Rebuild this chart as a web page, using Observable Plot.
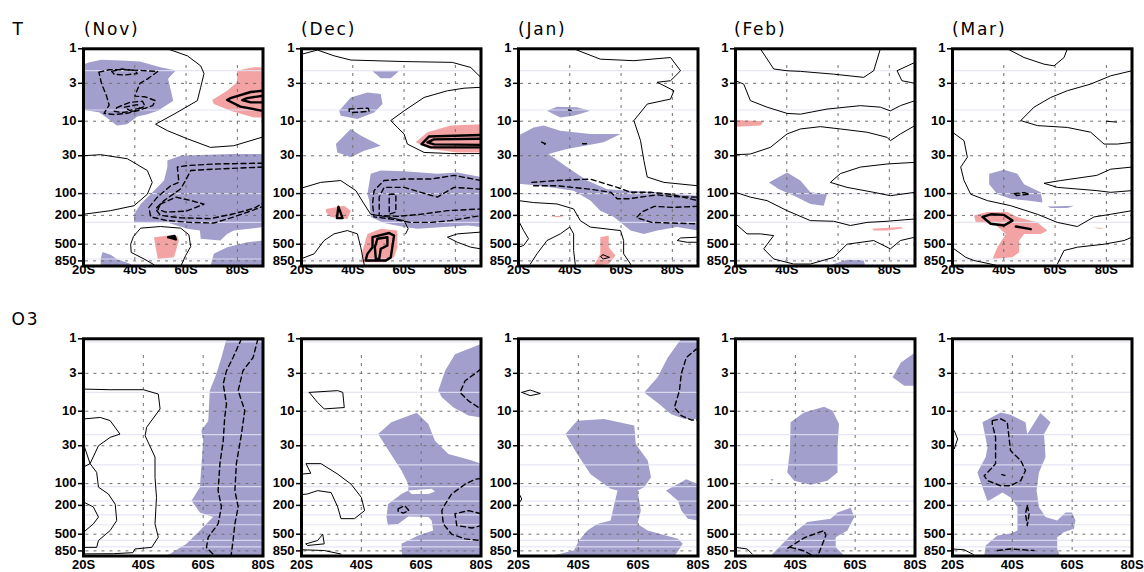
<!DOCTYPE html>
<html><head><meta charset="utf-8">
<script src="https://cdn.jsdelivr.net/npm/d3@7"></script>
<script src="https://cdn.jsdelivr.net/npm/@observablehq/plot@0.6"></script>
<style>
body{margin:0;background:#fff;}
#chart{position:relative;width:1144px;height:572px;overflow:hidden;background:#fff;}
.ttl{position:absolute;font-family:"DejaVu Sans","Liberation Sans",Arial,sans-serif;font-size:17px;letter-spacing:1.8px;line-height:normal;color:#000;white-space:nowrap;}
</style></head><body><div id="chart"></div>
<script>
// ---------- axis / label data ----------
const months = ["(Nov)","(Dec)","(Jan)","(Feb)","(Mar)"];
const rowLabels = ["T","O3"];
const pressureTicks = [1,3,10,30,100,200,500,850];
const latTicks = [20,40,60,80];
const gridPressure = [3,10,30,100,200,500,850];
const gridLatT = [40,60,80];
const gridLatO3 = [40,60];
const faintLevelsT = [2,7,100,250,800];
const faintLevelsO3 = [1.1,5.5,21,55,110,175,270,370,610,750];

// ---------- T panels: [lat (deg S), pressure (hPa)] ----------
const T_Nov_blue = [
 [[20,1.65],[22,1.55],[27,1.42],[35,1.45],[42,1.5],[50,1.8],[56,2.0],[53,2.6],[55,5.2],[49,7.2],[45,8.0],[41,8.6],[37,11],[33,11.5],[30,9.5],[26,7.5],[20,7.0]],
 [[52.7,35],[57.9,30],[68,29],[78.6,28.4],[90,28.4],[90,290],[78.6,324],[76,360],[73.4,445],[65.7,420],[65.4,324],[60.5,305],[52.7,250],[44.9,255],[39.7,250],[39.7,193],[42.3,139],[47.5,91],[51.4,66],[52.7,43]],
 [[70.8,680],[76,550],[83.8,470],[90,445],[90,1000],[69.5,1000]],
 [[27.4,640],[30.6,700],[33,800],[38.4,940],[39,1000],[26.7,1000],[26.7,800]]
];
const T_Nov_pink = [
 [[47.5,400],[53,380],[56.6,385],[57.2,445],[55.3,760],[49,800],[48.1,550]],
 [[79.9,2.0],[86.4,1.8],[90,1.8],[90,8.9],[86.4,8.9],[77.3,7.2],[70.8,5.8],[70.2,5.1],[76,3.8],[79.9,2.9]]
];
const T_Nov_solid = [
 [[52.7,1],[60.5,1.25],[65.7,1.72],[67,2.2],[65.7,3.4],[64.4,5.2],[55.3,8],[48.1,11],[52.7,13.5],[60.5,17.5],[69.5,23],[78.6,21.8],[90,16.5]],
 [[20,30],[26.7,29],[37.1,33],[44.9,48],[46.8,70],[44.9,102],[39.7,147],[30.6,172],[20,193]],
 [[47.5,960],[43.6,800],[38.6,650],[38.4,500],[39.5,390],[42.3,300],[50,285],[57.9,300],[61.1,370],[61.8,540],[59.8,720],[58,1000]]
];
const T_Nov_dashed = [
 [[26,2.1],[30,1.95],[36,1.95],[43,2.0],[49,2.05],[45,2.6],[42,3.0],[40,4.5],[44,4.6],[48,5.2],[47,6.1],[42,7.0],[37,7.8],[32,8.1],[28,7.8],[30,6.0],[29,4.5],[27,3.0],[26,2.1]],
 [[31,2.05],[35,1.9],[40,2.0],[41,2.2],[36,2.3],[32,2.25],[31,2.05]],
 [[33,6.5],[38,5.5],[43,5.3],[44,6.2],[40,7.2],[35,7.6],[32,7.3],[33,6.5]],
 [[36,6.4],[41,5.9],[42,6.6],[38,7.1],[36,6.4]],
 [[90,38],[70.8,39],[60.5,41],[56.6,43],[57.2,70],[54,78],[48.8,112],[45.5,155],[46.2,210],[52.7,236],[61.8,250],[70.8,255],[78.6,210],[86.4,168],[90,150]],
 [[90,43],[70.8,46],[61.8,48],[59.8,66],[57.9,86],[51.4,125],[48.1,163],[50,200],[57.9,216],[69.5,222],[78.6,190],[86.4,160],[90,135]],
 [[50,140],[56,112],[62,125],[67,140],[60,175],[52,180],[49,165],[50,140]]
];
const T_Nov_heavy = [
 [[90,3.8],[85.2,3.95],[77.3,4.8],[76,5.1],[81.2,6.3],[90,7.2]],
 [[90,4.45],[83.8,4.8],[81.9,5.1],[85.2,5.5],[90,5.5]],
 [[53,400],[56,430],[55.5,385],[53,400]]
];

const T_Dec_blue = [
 [[47.7,2.05],[58,2.05],[54.8,2.55],[50.9,2.55]],
 [[34.7,7.2],[39.2,4.7],[45.7,4.0],[50.9,4.2],[51.6,5.8],[48.3,7.6],[41.8,9.3],[35.3,8.4]],
 [[33.4,20.7],[39.2,12.8],[43.1,15.8],[50.9,21.8],[44.4,25.5],[39.2,31.5],[34,27]],
 [[47,53],[50.9,48],[60,49],[73,53],[80.8,51],[90,59],[90,290],[84.7,276],[75.6,290],[65.2,305],[60,290],[52.2,255],[47,210],[46.4,125],[45.7,102]]
];
const T_Dec_pink = [
 [[64.5,19.6],[69.1,14.2],[78.2,11.5],[90,11],[90,27],[80.8,27],[70.4,24.2]],
 [[29.5,163],[36.6,147],[39.2,172],[37.9,224],[31.4,210],[29.5,180]],
 [[45.7,360],[50.9,305],[57.4,324],[57.4,550],[56.1,760],[52.9,890],[43.1,890],[43.8,611]]
];
const T_Dec_solid = [
 [[20.4,1.18],[26.2,1.04],[32.7,1.25],[39.2,1.43],[60,1.5],[78.8,1.54],[86,1.81],[90,2.5]],
 [[90,3.4],[83.4,3.5],[76.9,3.8],[67.8,4.7],[60,7.2],[54.8,9.8],[57.4,12.2],[60,15],[61.3,20.7],[67.8,27],[78.2,28],[90,28]],
 [[20,84],[27.5,70],[35.3,66],[41.2,91],[44.4,139],[47,193],[53.5,210],[60,236],[61.6,305],[60.6,360]],
 [[20,790],[24.9,680],[28.8,445],[32.7,360],[37.9,324],[41.8,360],[43.1,550],[44.4,940],[44.6,1000]],
 [[90,340],[80.8,360],[76.9,400],[80.8,470],[86,550],[90,580]]
];
const T_Dec_dashed = [
 [[38.6,6.8],[46,6.6],[46.4,7.3],[40,7.6],[38.6,7.3],[38.6,6.8]],
 [[90,66],[79.5,56],[70.4,63],[60,63],[52.2,66],[48.3,91],[47.7,139],[48.3,210],[54.8,224],[62.6,250],[70.4,250],[78.2,236],[90,201]],
 [[90,87],[79.5,82],[73,112],[66.5,96],[60,82],[52.2,82],[50.3,112],[50.3,201],[57.4,206],[66.5,193],[76.9,172],[90,163]],
 [[54.2,102],[56.8,102],[56.8,180],[54.2,193],[54.2,102]]
];
const T_Dec_heavy = [
 [[90,15.5],[69.7,16.3],[66.8,20.7],[70.4,23],[90,23]],
 [[90,17.5],[71.7,17.8],[69.1,19.6],[71.7,20.9],[90,21.2]],
 [[34.4,152],[36,218],[33.8,218],[34.4,152]],
 [[47.7,400],[54.2,350],[56.1,380],[54.8,760],[52.9,840],[45,840],[45.7,680],[47.7,550],[47.7,400]],
 [[49.6,420],[53.5,400],[53.5,521],[50.9,580],[50.3,800],[49,800],[48.6,550],[49.6,420]]
];

const T_Jan_blue = [
 [[31.1,7.2],[35,6.3],[42.8,6.4],[48,7.2],[41.5,8.4],[36.3,8.9]],
 [[20,15.8],[25.9,12.2],[29.8,11.5],[36.3,13.5],[48,15],[59.8,15],[53.2,19.6],[38.9,24.2],[31.7,28.4],[38.9,43],[46.7,66],[54.6,87],[63.7,91],[74.1,96],[81.9,102],[90,107],[90,324],[81.9,290],[74.1,324],[68.9,360],[63.7,324],[57.2,210],[51.9,172],[48,125],[41.5,91],[28.5,78],[20,73]]
];
const T_Jan_pink = [
 [[32,205],[39,200],[35.5,212]],
 [[51.9,400],[55.2,380],[55.2,550],[57.8,716],[55.2,940],[49.3,1000],[51.9,680]],
 [[79,21],[80.5,21.5],[79.5,22]]
];
const T_Jan_solid = [
 [[41.5,1],[51.9,1.39],[65,1.46],[79.3,1.32],[83.2,2.01],[79.3,2.76],[74.1,2.9],[80.6,3.79],[79.3,4.95],[70.2,5.8],[65,9.8],[67.6,18.6],[68.9,35],[70.2,59],[76.7,70],[90,78]],
 [[20,125],[25.9,133],[35,139],[41.5,163],[44.1,236],[48,290],[59.8,324],[61,445],[61,680],[63.7,940],[64,1000]],
 [[20,236],[22,324],[23.9,420],[22,521],[20,550]],
 [[24.6,940],[27.2,680],[31.1,445],[36.3,360],[40,290],[41.5,360],[41.5,611],[42.2,1000]],
 [[90,400],[83.2,410],[81.9,445],[85.8,470],[90,470]],
 [[53,700],[55.5,760],[53,800],[52,740],[53,700]]
];
const T_Jan_dashed = [
 [[25.2,70],[35,66],[48,63],[58.5,82],[63.7,96],[71.5,96],[79.3,102],[90,125]],
 [[25.9,78],[35,78],[48,87],[56,96],[58.5,118],[63,118],[68.9,110],[74,104],[80,110],[90,112]],
 [[90,150],[80,155],[73,150],[68,180],[66,215],[72,250],[80,255],[90,262]],
 [[29,19.5],[30.5,20.5],[29.5,21.5]],
 [[45,20.5],[46.5,20.5]],
 [[39.5,7.0],[40.5,7.1]]
];
const T_Jan_heavy = [];

const T_Feb_blue = [
 [[33,70],[40.1,51],[45.3,66],[49.2,96],[55.7,102],[54.4,147],[49.2,139],[44,112],[37,87]],
 [[58.3,940],[63.5,820],[70,840],[70.6,1000],[57,1000]]
];
const T_Feb_pink = [
 [[20,9.6],[31,10],[29.7,11.5],[20,11.9]],
 [[73.2,305],[84.3,290],[85.6,300],[79.1,324],[73.9,324]]
];
const T_Feb_solid = [
 [[29.7,1],[34.9,1.9],[40.1,2.01],[45.3,2.05],[58.3,2.24],[70,2.48],[73.9,2.01],[76.5,1]],
 [[90,1.54],[83,2.01],[84.9,2.76],[90,3.0]],
 [[20,2.76],[23.2,3.07],[25.8,5.2],[32.3,6.4],[40.1,7.8],[45.3,8],[55.7,6.8],[68.7,6.1],[76.5,6.4],[80.4,7.2],[84.3,6.1],[90,5.2]],
 [[20,29],[25.8,28.4],[33.6,23],[40.1,15],[45.3,12.8],[53.1,11.9],[60.9,12.8],[71.3,14.2],[79.1,16.7],[80.4,18.6],[84.3,15],[90,11.5]],
 [[90,37],[79.1,39],[68.7,43],[60.9,53],[57,70],[63.5,82],[73.9,96],[80.4,107],[90,96]],
 [[20,96],[25.8,112],[32.3,125],[40.1,172],[49.2,236],[58.3,241],[64.8,276],[71.3,250],[79.1,241],[90,224]],
 [[20,261],[24.5,360],[29.7,360],[34.9,380],[31,580],[34.9,800],[42.7,940],[49.2,940],[58.3,760],[63.5,500],[73.9,445],[80.4,580],[84.3,445],[90,400]]
];
const T_Feb_dashed = [];
const T_Feb_heavy = [];

const T_Mar_blue = [
 [[34.3,53],[40.1,47],[45.3,53],[47.9,74],[54.4,96],[55.1,133],[49.2,125],[42.7,118],[37.5,102],[34.3,74]],
 [[57,151],[67.4,147],[64.8,158],[58.3,158]]
];
const T_Mar_pink = [
 [[28.4,201],[33.6,180],[41.4,180],[45.3,210],[53.1,250],[57,324],[54.4,360],[47.9,360],[46,445],[46,645],[43.4,760],[35.6,800],[37.5,550],[40.8,360],[36.2,261],[29.1,250]],
 [[75,295],[80,300],[77,305]]
];
const T_Mar_solid = [
 [[41.4,1],[47.9,1.32],[55.7,1.63],[59.6,1.72],[63.5,1.32],[64.8,1]],
 [[90,2.01],[81.7,2.36],[73.9,3.07],[64.8,3.79],[58.3,4.7],[51.8,6.4],[46.6,9.8],[53.1,11.5],[64.8,12.2],[73.9,14.2],[79.1,20.7],[84.3,20.7],[90,19.6]],
 [[20,14.2],[24.5,18.6],[25.8,31.5],[23.2,43],[24.5,66],[27.1,102],[33.6,125],[42.7,147],[53.1,193],[60.9,250],[68.7,285],[75.2,210],[81.7,193],[90,172]],
 [[90,43],[81.7,46],[76.3,56],[62.2,66],[55.7,72],[60.9,82],[76.3,91],[81.7,96],[90,91]],
 [[20.6,580],[25.2,760],[28.4,840],[34.9,940],[38,1000]],
 [[60.9,940],[63.5,611],[68.7,550],[79.1,500],[86.9,445],[90,400]],
 [[80,10],[84,10.3]]
];
const T_Mar_dashed = [
 [[44,100],[48,97],[50,102],[45,106],[44,100]]
];
const T_Mar_heavy = [
 [[31.7,210],[34.9,193],[40.1,197],[43.4,236],[40.1,276],[34.9,261],[31.7,210]],
 [[44.7,285],[50.5,310]]
];

// ---------- O3 panels ----------
const O3_Nov_blue = [
 [[67.8,1],[80,1],[80,1000],[47,1000],[48.9,940],[54.4,680],[58.9,445],[63.3,290],[58.9,250],[56.1,172],[58.9,112],[60,25.5],[59.4,18.6],[61.7,13.5],[62.2,5.2],[64.4,3.07],[66.1,1.81]]
];
const O3_Nov_solid = [
 [[20,4.95],[28.9,5.05],[40,5.05],[45,5.8],[45.6,9.3],[41.1,16.7],[40.6,21.8],[43.9,43],[43.9,82],[44.4,155],[43.9,360],[45,550],[42.8,760],[37.2,800],[36.5,900],[30,930],[20,935]],
 [[20,12.8],[25.6,12.2],[28.9,13.5],[32.2,20.7],[28.9,23],[25,30],[22.2,53],[20,59]],
 [[20,28.4],[22.2,53],[24.4,70],[25,112],[28.3,139],[30.6,193],[31.1,324],[28.9,445],[25,611],[24.4,760],[20,760]],
 [[20,180],[23.3,210],[25,290],[23.3,360],[20,470]]
];
const O3_Nov_dashed = [
 [[72.8,1],[70,1.81],[67.8,2.76],[66.7,4.2],[67.8,8],[67.2,12.2],[66.7,25.5],[65.6,53],[65,125],[66.1,210],[65,360],[61.7,550],[61.1,760],[63.3,940],[64,1000]],
 [[78.3,1],[76.7,1.81],[73.3,2.76],[71.7,5.2],[73.9,9.8],[72.8,20.7],[71.1,53],[70.6,125],[71.7,210],[70.6,360],[70,611],[69.4,940],[69.4,1000]]
];

const O3_Dec_blue = [
 [[65.7,5.2],[68,2.76],[71.3,1.63],[77,1.32],[80,1.18],[80,12.2],[75.8,11.5],[70.8,8.9],[66.9,6.4]],
 [[45.6,20.7],[50,14.2],[58.5,10.5],[62.4,15],[64.6,25.5],[69.1,39],[77,48],[80,53],[80,1000],[53.6,1000],[53.4,680],[59,521],[64,445],[63.5,324],[62.4,290],[55.7,285],[52.3,360],[48.9,380],[48.4,290],[48.9,193],[53.4,139],[55.7,125],[55.7,102],[53.4,66],[50,40]]
];
const O3_Dec_white = [
 [[55.7,125],[63.5,118],[64.6,129],[62.4,139],[56.8,139]]
];
const O3_Dec_solid = [
 [[22.6,5.5],[32.1,5.2],[33.8,5.5],[34.3,8.9],[27.6,9.3],[25.4,7.6],[22.6,5.5]],
 [[20,74],[23.1,72],[21.5,53],[26.5,53],[32.1,74],[36.6,102],[40,155],[41.1,236],[37.7,305],[33.2,305],[32.1,210],[29.9,133],[25.4,125],[22,139],[20,142]],
 [[21.5,680],[25.4,611],[27.1,500],[27.6,680],[22,716],[21.5,680]],
 [[20,820],[27.6,840],[33.2,940]]
];
const O3_Dec_dashed = [
 [[80,2.6],[78.6,2.9],[74.7,3.8],[73,5.5],[75.8,7.2],[79.2,8.9],[80,9.3]],
 [[80,85],[78.1,87],[74.7,102],[70.2,139],[68,193],[66.9,236],[67.4,360],[70.2,500],[74.7,580],[80,611]],
 [[80,261],[75.8,236],[71.3,261],[71.9,380],[77,410],[80,380]],
 [[52.3,224],[54.5,201],[55.9,236],[54,255],[52.3,240],[52.3,224]]
];

const O3_Jan_blue = [
 [[62,5.5],[66.5,3.4],[69.9,1.81],[74.4,1],[80,1],[80,12.8],[75.5,12.8],[71,11],[67.1,8]],
 [[35.7,20.7],[39.6,13.5],[48.6,12.8],[58.7,15.8],[59.2,28.4],[63.2,48],[64.3,82],[62,112],[59.8,125],[60.9,236],[59.8,360],[63.2,445],[73.3,580],[74.9,680],[72.7,940],[72,1000],[30.7,1000],[38.5,840],[40.2,611],[43,445],[46.3,360],[50.8,324],[52,193],[53.1,125],[50.8,118],[44.1,74],[39.6,39]],
 [[69.3,125],[76.1,87],[80,102],[80,324],[76.6,305],[74.4,236],[73.3,172]]
];
const O3_Jan_solid = [
 [[21.1,5.5],[23.9,5.1],[27.3,5.7],[23.9,6.1],[21.1,5.5]],
 [[20,133],[21.1,163],[20,193]]
];
const O3_Jan_dashed = [
 [[80,1.39],[79.4,1.39],[76.1,1.81],[74.4,3.07],[73.8,5.2],[72.1,8.9],[74.4,11.5],[77.7,13.2],[80,13.2]]
];

const O3_Feb_blue = [
 [[80,1.54],[75.3,2.12],[72.5,3.4],[76.4,4.45],[80,4.45]],
 [[38.4,14.2],[42.9,10.4],[49.6,8.7],[52.4,9.8],[54.6,15],[54.1,31.5],[54.1,70],[50.7,91],[45.1,104],[39.6,91],[37.3,70],[38.2,35]],
 [[34,800],[38.4,521],[44,340],[51.8,305],[54.1,250],[58.5,216],[59.7,290],[57.4,445],[53.5,550],[53.5,760],[55.8,940],[56,1000],[31.7,1000]],
 [[31.6,88],[32.6,86],[32.4,92]]
];
const O3_Feb_solid = [
 [[20,760],[23.9,800],[25.6,940]]
];
const O3_Feb_dashed = [
 [[37.5,780],[43,560],[49.6,445],[50.2,520],[48,890],[47,1000]],
 [[38.4,760],[43,850],[46,1000]]
];

const O3_Mar_blue = [
 [[30,14.2],[36.1,10.4],[39.4,11.2],[44.4,14.2],[45,20.7],[49.4,10.6],[52.8,14.2],[50.6,20.7],[51.1,43],[48.9,70],[48.1,125],[48.9,210],[51.1,290],[55,324],[57.8,250],[60,250],[61.1,324],[60.6,420],[57.2,470],[55,550],[55,800],[55.9,1000],[30.6,1000],[31.1,716],[35,521],[39.4,490],[41.7,445],[41.7,210],[39.4,155],[36.7,133],[31.7,176],[28.3,70],[31.1,43],[31.7,31.5]]
];
const O3_Mar_solid = [
 [[20.6,18.6],[21.7,24.2],[20.6,33]],
 [[20,800],[23.9,820],[26.7,940],[27.5,1000]]
];
const O3_Mar_dashed = [
 [[33.3,13.5],[36.1,12.8],[38.3,14.2],[39.4,35],[42.8,48],[44.4,66],[42.8,91],[39.4,107],[36.1,107],[31.7,91],[30.6,78],[32.8,63],[34.4,53],[34.4,23],[33.3,15],[33.3,13.5]],
 [[45,201],[45.6,261],[45,380],[44.4,261],[45,201]],
 [[35,840],[39.4,800],[47.2,840]],
 [[36.5,75],[37.5,77]]
];

// ---------- drawing ----------
const BLUE = "#a29fcd", PINK = "#f3a3a3";
const frameLefts = [83, 300.5, 518, 735, 952];
const FW = 179.5, ML = 45, MR = 16;
const chart = document.getElementById("chart");

function toRows(polys){ return (polys||[]).flatMap((poly,i)=>poly.map(([lat,p])=>({lat,p,id:i}))); }

function panel(row, col, d){
  const top = row === 0;
  const x0 = 20, x1 = top ? 90 : 80;
  const ppd = FW/(x1-x0);
  const H = top ? 290 : 282;
  const tickFont = "Liberation Sans, Arial, sans-serif";
  const marks = [
    Plot.line(toRows(d.blue), {x:"lat", y:"p", z:"id", fill:BLUE, stroke:"none", curve:"linear-closed", clip:true}),
    Plot.line(toRows(d.pink), {x:"lat", y:"p", z:"id", fill:PINK, stroke:"none", curve:"linear-closed", clip:true}),
    Plot.line(toRows(d.white), {x:"lat", y:"p", z:"id", fill:"white", stroke:"none", curve:"linear-closed", clip:true}),
    Plot.ruleY(top ? faintLevelsT : faintLevelsO3, {stroke:"#e2e2f3", strokeOpacity:0.85, strokeWidth:1.2, clip:true}),
    Plot.ruleX(top ? gridLatT : gridLatO3, {y1:()=>1.7, y2:()=>1000, stroke:"#707070", strokeDasharray:"3,5", strokeWidth:1}),
    Plot.ruleY(gridPressure, {x1:()=>20.8, x2:()=> top ? 90 : 78, stroke:"#707070", strokeDasharray:"3,5", strokeWidth:1}),
    Plot.line(toRows(d.solid), {x:"lat", y:"p", z:"id", stroke:"black", strokeWidth:1, clip:true}),
    Plot.line(toRows(d.dashed), {x:"lat", y:"p", z:"id", stroke:"black", strokeWidth:1.4, strokeDasharray:"5,3.5", clip:true}),
    Plot.line(toRows(d.heavy), {x:"lat", y:"p", z:"id", stroke:"black", strokeWidth:2.4, clip:true}),
    Plot.frame({stroke:"black", strokeWidth:3}),
    Plot.ruleY(pressureTicks, {x1:()=>x0-5/ppd, x2:()=>x0, stroke:"black", strokeWidth:1.5}),
    Plot.text(pressureTicks, {y:d=>d, text:d=>String(d), frameAnchor:"left", textAnchor:"end", dx:-7, dy:-0.5, fontSize:13, fontWeight:"bold", fontFamily:tickFont}),
    Plot.text(latTicks, {x:d=>d, text:d=>d+"S", frameAnchor:"bottom", dy: top ? 7.5 : 12.5, fontSize:13, fontWeight:"bold", fontFamily:tickFont})
  ];
  const svg = Plot.plot({
    width: ML+FW+MR, height: H,
    marginLeft: ML, marginRight: MR, marginTop: 48.3, marginBottom: H-265.5,
    x: {domain:[x0,x1], axis:null},
    y: {type:"log", domain:[1,1000], reverse:true, axis:null},
    style: {background:"transparent", overflow:"visible"},
    marks
  });
  svg.style.position = "absolute";
  svg.style.left = (frameLefts[col]-ML)+"px";
  svg.style.top = (top ? 0 : 290)+"px";
  chart.appendChild(svg);
}

const tPanels = [
  {blue:T_Nov_blue, pink:T_Nov_pink, solid:T_Nov_solid, dashed:T_Nov_dashed, heavy:T_Nov_heavy},
  {blue:T_Dec_blue, pink:T_Dec_pink, solid:T_Dec_solid, dashed:T_Dec_dashed, heavy:T_Dec_heavy},
  {blue:T_Jan_blue, pink:T_Jan_pink, solid:T_Jan_solid, dashed:T_Jan_dashed, heavy:T_Jan_heavy},
  {blue:T_Feb_blue, pink:T_Feb_pink, solid:T_Feb_solid, dashed:T_Feb_dashed, heavy:T_Feb_heavy},
  {blue:T_Mar_blue, pink:T_Mar_pink, solid:T_Mar_solid, dashed:T_Mar_dashed, heavy:T_Mar_heavy}
];
const oPanels = [
  {blue:O3_Nov_blue, solid:O3_Nov_solid, dashed:O3_Nov_dashed},
  {blue:O3_Dec_blue, white:O3_Dec_white, solid:O3_Dec_solid, dashed:O3_Dec_dashed},
  {blue:O3_Jan_blue, solid:O3_Jan_solid, dashed:O3_Jan_dashed},
  {blue:O3_Feb_blue, solid:O3_Feb_solid, dashed:O3_Feb_dashed},
  {blue:O3_Mar_blue, solid:O3_Mar_solid, dashed:O3_Mar_dashed}
];
tPanels.forEach((d,i)=>panel(0,i,d));
oPanels.forEach((d,i)=>panel(1,i,d));

// titles and row labels
function label(text, left, baseline){
  const el = document.createElement("div");
  el.className = "ttl";
  el.textContent = text;
  el.style.left = left+"px";
  el.style.top = (baseline - 15.8)+"px";
  chart.appendChild(el);
}
const titleLefts = [84, 301, 518, 734, 952];
months.forEach((m,i)=>label(m, titleLefts[i], 35));
label(rowLabels[0], 12.5, 35);
label(rowLabels[1], 11.5, 325);
</script></body></html>
